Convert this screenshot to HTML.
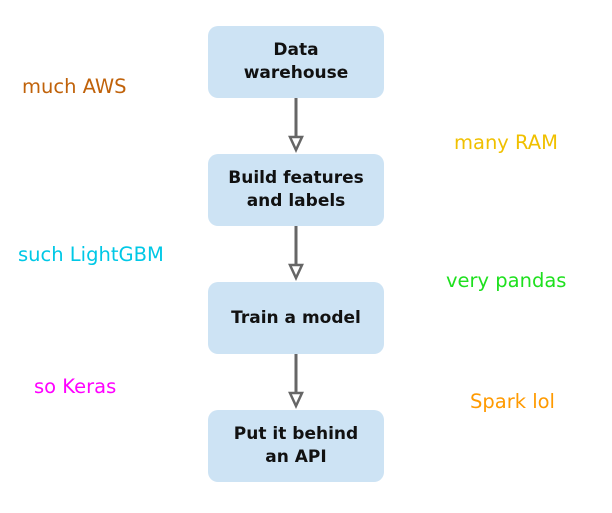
<!DOCTYPE html>
<html><head><style>
body{margin:0;width:612px;height:513px;background:#fff;position:relative;font-family:"DejaVu Sans","Liberation Sans",sans-serif;}
.b{position:absolute;left:208px;width:176px;height:72px;background:#cde3f4;border-radius:10px;display:flex;align-items:center;justify-content:center;text-align:center;font-weight:bold;font-size:17px;line-height:23px;color:#111;}
.t{position:absolute;font-size:19.5px;white-space:nowrap;}
</style></head><body>
<div class="b" style="top:26px">Data<br>warehouse</div>
<div class="b" style="top:154px">Build features<br>and labels</div>
<div class="b" style="top:282px">Train a model</div>
<div class="b" style="top:410px">Put it behind<br>an API</div>
<svg width="612" height="513" style="position:absolute;left:0;top:0">
<g stroke="#666" stroke-width="3" fill="#fff">
<line x1="296" y1="98" x2="296" y2="137"/><polygon points="290,137 302,137 296,150" stroke-width="2.5"/>
<line x1="296" y1="226" x2="296" y2="265"/><polygon points="290,265 302,265 296,278" stroke-width="2.5"/>
<line x1="296" y1="354" x2="296" y2="393"/><polygon points="290,393 302,393 296,406" stroke-width="2.5"/>
</g></svg>
<div class="t" style="left:22px;top:75px;color:#c0620a">much AWS</div>
<div class="t" style="left:454px;top:131px;color:#f0c000">many RAM</div>
<div class="t" style="left:18px;top:243px;color:#00c8e6">such LightGBM</div>
<div class="t" style="left:446px;top:269px;color:#1ee01e">very pandas</div>
<div class="t" style="left:34px;top:375px;color:#ff00ff">so Keras</div>
<div class="t" style="left:470px;top:390px;color:#ff9a00">Spark lol</div>
</body></html>
